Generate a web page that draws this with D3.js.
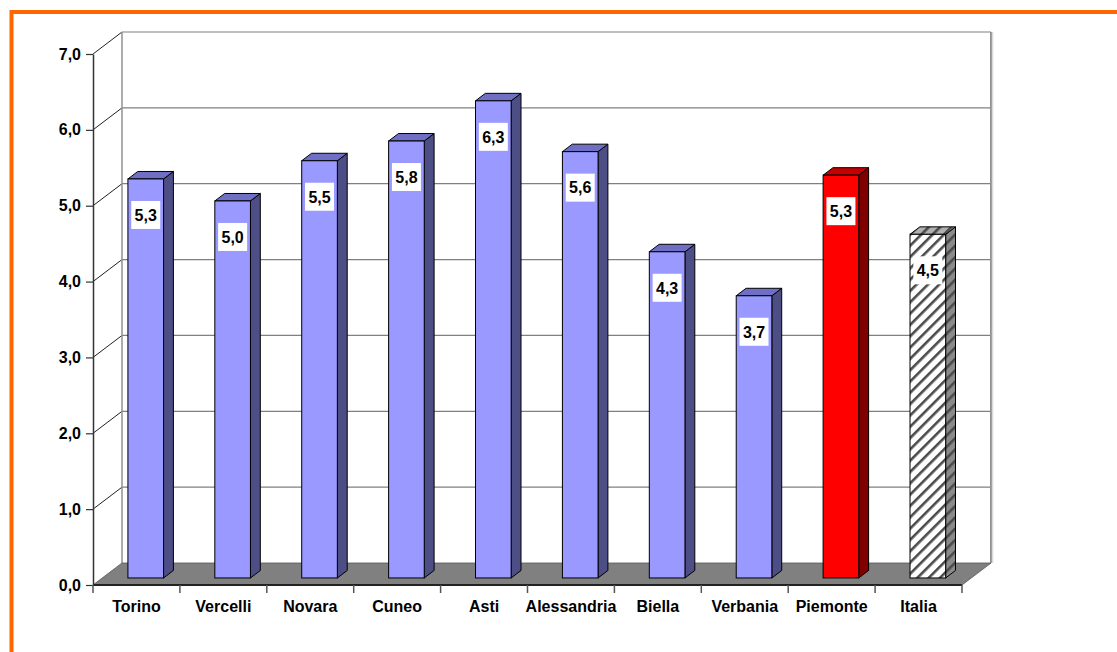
<!DOCTYPE html>
<html>
<head>
<meta charset="utf-8">
<script src="https://cdn.jsdelivr.net/npm/d3@7"></script>
<style>
  body { margin: 0; background: #fff; }
  svg { display: block; font-family: "Liberation Sans", Arial, sans-serif; }
</style>
</head>
<body>
<svg id="chart" width="1117" height="652"></svg>
<script>
// Data
const categories = ["Torino", "Vercelli", "Novara", "Cuneo", "Asti", "Alessandria", "Biella", "Verbania", "Piemonte", "Italia"];
const values = [5.26, 4.97, 5.5, 5.76, 6.29, 5.62, 4.3, 3.72, 5.31, 4.53];
const level = ["provincia", "provincia", "provincia", "provincia", "provincia", "provincia", "provincia", "provincia", "regione", "nazione"];
const yTicks = [0, 1, 2, 3, 4, 5, 6, 7];

const svg = d3.select("#chart");

// 3D geometry of the chart box
const DX = 29, DY = -22;           // depth offset of the back wall
const F1 = 0.32, F2 = 0.66;        // bar front / back as fraction of the depth

const x = d3.scaleBand().domain(categories).range([93, 962]);
const y = d3.scaleLinear().domain([0, 7]).range([585, 54]);
const fmt = v => v.toFixed(1).replace(".", ",");

// hatch patterns for Italia
const defs = svg.append("defs");
function hatch(id, bg) {
    const p = defs.append("pattern")
        .attr("id", id)
        .attr("patternUnits", "userSpaceOnUse")
        .attr("width", 8).attr("height", 8)
        .attr("patternTransform", "rotate(45)");
    p.append("rect").attr("width", 8).attr("height", 8).attr("fill", bg);
    p.append("rect").attr("width", 2.6).attr("height", 8).attr("fill", "#4a4a4a");
}
hatch("hatchFront", "#fff");
hatch("hatchSide", "#8a8a8a");
hatch("hatchTop", "#b0b0b0");

const styles = {
    provincia: { front: "#9999ff", side: "#4e4e86", top: "#6f6fc6" },
    regione: { front: "#ff0000", side: "#800000", top: "#c40000" },
    nazione: { front: "url(#hatchFront)", side: "url(#hatchSide)", top: "url(#hatchTop)" }
};

// orange frame (only top and left visible)
svg.append("line").attr("x1", 11.5).attr("y1", 12).attr("x2", 1117).attr("y2", 12)
    .attr("stroke", "#ff6600").attr("stroke-width", 4);
svg.append("line").attr("x1", 11.5).attr("y1", 10).attr("x2", 11.5).attr("y2", 652)
    .attr("stroke", "#ff6600").attr("stroke-width", 4);

const x0 = x.range()[0], x1 = x.range()[1];
const yTop = y(7), yBase = y(0);

// back wall gridlines
const grid = svg.append("g");
grid.selectAll("line.back")
    .data(yTicks.filter(t => t > 0))
    .join("line")
    .attr("x1", x0 + DX).attr("x2", x1 + DX)
    .attr("y1", d => y(d) + DY).attr("y2", d => y(d) + DY)
    .attr("stroke", "#808080").attr("stroke-width", 1.2);
// left wall gridlines
grid.selectAll("line.side")
    .data(yTicks.filter(t => t > 0))
    .join("line")
    .attr("x1", x0).attr("x2", x0 + DX)
    .attr("y1", d => y(d)).attr("y2", d => y(d) + DY)
    .attr("stroke", "#222").attr("stroke-width", 1);
// wall edges
grid.append("line").attr("x1", x0 + DX).attr("x2", x0 + DX)
    .attr("y1", yTop + DY).attr("y2", yBase + DY).attr("stroke", "#909090").attr("stroke-width", 1.5);
grid.append("line").attr("x1", x1 + DX).attr("x2", x1 + DX)
    .attr("y1", yTop + DY).attr("y2", yBase + DY).attr("stroke", "#909090").attr("stroke-width", 2);
grid.append("line").attr("x1", x1 + DX + 1.5).attr("x2", x1 + DX + 1.5)
    .attr("y1", yTop + DY).attr("y2", yBase + DY).attr("stroke", "#d8d8d8").attr("stroke-width", 1.5);

// floor
svg.append("path")
    .attr("d", `M${x0},${yBase}L${x1},${yBase}L${x1 + DX},${yBase + DY}L${x0 + DX},${yBase + DY}Z`)
    .attr("fill", "#808080").attr("stroke", "#555").attr("stroke-width", 0.8);
svg.append("line").attr("x1", x0).attr("x2", x1).attr("y1", yBase).attr("y2", yBase)
    .attr("stroke", "#222").attr("stroke-width", 2);

// bars
const bw = x.bandwidth() * 0.41;
const ddx = DX * (F2 - F1), ddy = DY * (F2 - F1);
const bars = svg.append("g").selectAll("g")
    .data(categories.map((c, i) => ({ c, v: values[i], s: styles[level[i]] })))
    .join("g");

bars.each(function (d) {
    const g = d3.select(this);
    const left = x(d.c) + x.bandwidth() / 2 - bw / 2 + DX * F1;
    const right = left + bw;
    const top = y(d.v) + DY * F1;
    const base = y(0) + DY * F1;
    g.append("path")
        .attr("d", `M${right},${top}L${right + ddx},${top + ddy}L${right + ddx},${base + ddy}L${right},${base}Z`)
        .attr("fill", d.s.side).attr("stroke", "#000").attr("stroke-width", 1);
    g.append("path")
        .attr("d", `M${left},${top}L${left + ddx},${top + ddy}L${right + ddx},${top + ddy}L${right},${top}Z`)
        .attr("fill", d.s.top).attr("stroke", "#000").attr("stroke-width", 1);
    g.append("rect")
        .attr("x", left).attr("y", top).attr("width", bw).attr("height", base - top)
        .attr("fill", d.s.front).attr("stroke", "#000").attr("stroke-width", 1);

    // value label
    const cx = (left + right) / 2, cy = top + 36;
    g.append("rect")
        .attr("x", cx - 14.5).attr("y", cy - 14).attr("width", 29).attr("height", 28)
        .attr("fill", "#fff");
    g.append("text")
        .attr("x", cx).attr("y", cy).attr("dy", "0.36em")
        .attr("text-anchor", "middle")
        .attr("font-size", 16).attr("font-weight", "bold")
        .text(fmt(d.v));
});

// y axis
const yAxis = svg.append("g")
    .attr("transform", `translate(${x0},0)`)
    .call(d3.axisLeft(y).tickValues(yTicks).tickFormat(fmt).tickSize(7).tickSizeOuter(0));
yAxis.select(".domain").attr("stroke", "#333").attr("stroke-width", 1.5);
yAxis.selectAll(".tick line").attr("stroke", "#333").attr("stroke-width", 1.2);
yAxis.selectAll(".tick text")
    .attr("x", -12)
    .attr("font-size", 16).attr("font-weight", "bold")
    .attr("font-family", "Liberation Sans, Arial, sans-serif")
    .attr("fill", "#000");

// x axis: labels from axisBottom, ticks on the band boundaries
const xAxis = svg.append("g")
    .attr("transform", `translate(0,${yBase})`)
    .call(d3.axisBottom(x).tickSize(0).tickPadding(16));
xAxis.select(".domain").remove();
xAxis.selectAll(".tick text")
    .attr("font-size", 16).attr("font-weight", "bold")
    .attr("font-family", "Liberation Sans, Arial, sans-serif")
    .attr("fill", "#000");

svg.append("g").selectAll("line")
    .data(categories.map(c => x(c)).concat([x1]))
    .join("line")
    .attr("x1", d => d).attr("x2", d => d)
    .attr("y1", yBase).attr("y2", yBase + 8)
    .attr("stroke", "#555").attr("stroke-width", 1.5);
</script>
</body>
</html>
